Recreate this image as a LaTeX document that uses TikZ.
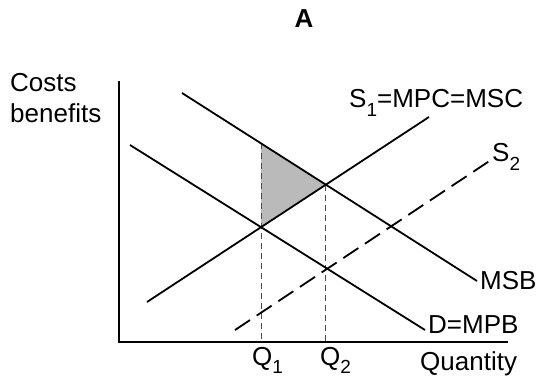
\documentclass[tikz,border=0pt]{standalone}
\usepackage{fontspec}
\setmainfont{Liberation Sans}
\usetikzlibrary{intersections}
\newcommand{\lowsub}[1]{\raisebox{-0.32em}{\fontsize{19}{20}\selectfont #1}}
\begin{document}
\begin{tikzpicture}[x=1pt,y=-1pt,
  lbl/.style={font=\fontsize{26}{30}\selectfont, inner sep=0pt},
  curve/.style={line width=1.8pt},
  guide/.style={line width=0.8pt, draw=black!70, dash pattern=on 6pt off 4pt},
  shifted/.style={line width=1.8pt, dash pattern=on 18pt off 8pt}]
\useasboundingbox (0,0) rectangle (544,385);
% axes
\coordinate (ytop) at (119,81);
\coordinate (orig) at (119,342);
\coordinate (xend) at (508,342);
\draw[line width=2.6pt] (ytop) -- (orig) -- (xend);
% curves
\coordinate (msbA) at (182,93);   \coordinate (msbB) at (477,281);
\coordinate (mpbA) at (130,145);  \coordinate (mpbB) at (425,330);
\coordinate (s1A) at (147,302);   \coordinate (s1B) at (429,117);
\coordinate (s2A) at (235,330);   \coordinate (s2B) at (491,160);
\path[name path=msb] (msbA) -- (msbB);
\path[name path=mpb] (mpbA) -- (mpbB);
\path[name path=s1] (s1A) -- (s1B);
\path[name path=s2] (s2A) -- (s2B);
\path[name intersections={of=s1 and mpb, by=e1}];
\path[name intersections={of=s1 and msb, by=e2}];
\path[name path=v1] (e1) -- ++(0,-200);
\path[name intersections={of=v1 and msb, by=t1}];
% shaded triangle
\fill[black!27] (t1) -- (e2) -- (e1) -- cycle;
% guides
\coordinate (q1b) at (e1 |- orig);
\coordinate (q2b) at (e2 |- orig);
\draw[guide] (t1) -- (q1b);
\draw[guide] (e2) -- (q2b);
% lines
\draw[curve] (msbA) -- (msbB);
\draw[curve] (mpbA) -- (mpbB);
\draw[curve] (s1A) -- (s1B);
\draw[shifted] (s2A) -- (s2B);
% labels
\node[lbl, font=\fontsize{26}{30}\selectfont\bfseries, anchor=base] (ttl) at (304,28) {A};
\node[lbl, anchor=base west] (cst) at (10,92) {Costs};
\node[lbl, anchor=base west] (ben) at (10,123) {benefits};
\node[lbl, anchor=base west] (ls1) at (349,108) {S\lowsub{1}=MPC=MSC};
\node[lbl, anchor=base west] (ls2) at (492,162) {S\lowsub{2}};
\node[lbl, anchor=base west] (lmsb) at (480,289) {MSB};
\node[lbl, anchor=base west] (lmpb) at (428,333) {D=MPB};
\node[lbl, anchor=base west] (lq) at (420,370) {Quantity};
\node[lbl, anchor=base west] (lq1) at (252,365) {Q\lowsub{1}};
\node[lbl, anchor=base west] (lq2) at (320,365) {Q\lowsub{2}};
\end{tikzpicture}
\end{document}
